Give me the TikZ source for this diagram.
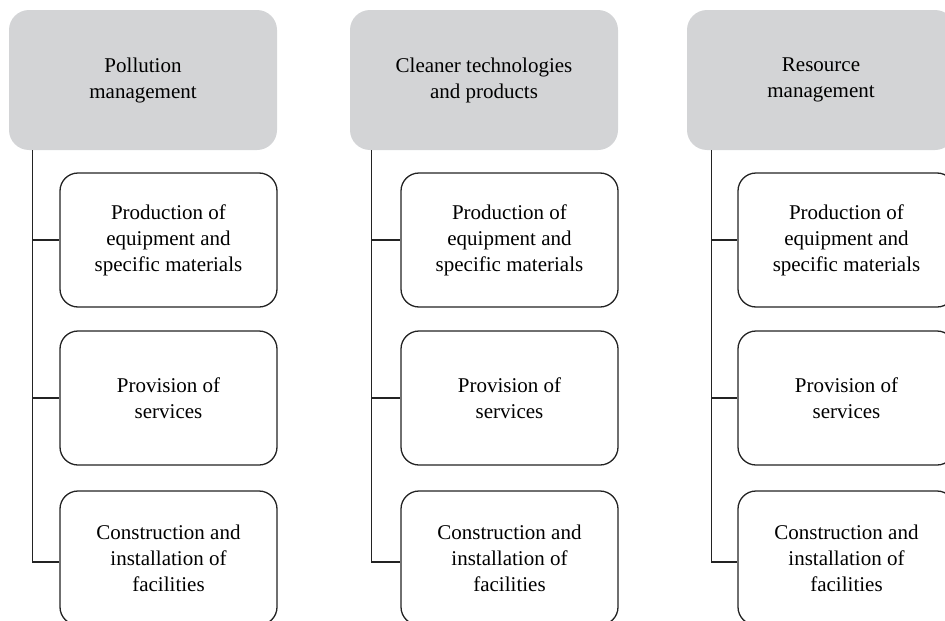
\documentclass[tikz,border=0pt]{standalone}
\usepackage{fontspec}
\setmainfont{Liberation Serif}
\definecolor{headgray}{RGB}{211,212,214}
\definecolor{linegray}{RGB}{35,35,35}
\begin{document}
\begin{tikzpicture}[x=1pt,y=-1pt,
  txt/.style={align=center, inner sep=0pt, font=\fontsize{21}{26}\selectfont},
  head/.style={txt, fill=headgray, draw=none, rounded corners=20pt, minimum width=268pt, minimum height=140pt},
  sub/.style={txt, draw=linegray, line width=1.3pt, fill=white, rounded corners=18pt, minimum width=217pt, minimum height=134pt},
  conn/.style={draw=linegray, line width=1.3pt}]
\useasboundingbox (0,0) rectangle (945,621);
\clip (0,0) rectangle (945,621);

% Column 1
\node[head] (h1) at (143,80) {Pollution\\management};
\node[sub] (c11) at (168.5,240) {Production of\\equipment and\\specific materials};
\node[sub] (c12) at (168.5,398) {Provision of\\services};
\node[sub] (c13) at (168.5,558) {Construction and\\installation of\\facilities};
\coordinate (v1) at ([xshift=24pt]h1.south west);
\coordinate (b13) at ([yshift=-4pt]c13.west);
\draw[conn] (v1) -- (v1 |- b13) -- (b13);
\draw[conn] (v1 |- c11.west) -- (c11.west);
\draw[conn] (v1 |- c12.west) -- (c12.west);

% Column 2
\node[head] (h2) at (484,80) {Cleaner technologies\\and products};
\node[sub] (c21) at (509.5,240) {Production of\\equipment and\\specific materials};
\node[sub] (c22) at (509.5,398) {Provision of\\services};
\node[sub] (c23) at (509.5,558) {Construction and\\installation of\\facilities};
\coordinate (v2) at ([xshift=22pt]h2.south west);
\coordinate (b23) at ([yshift=-4pt]c23.west);
\draw[conn] (v2) -- (v2 |- b23) -- (b23);
\draw[conn] (v2 |- c21.west) -- (c21.west);
\draw[conn] (v2 |- c22.west) -- (c22.west);

% Column 3
\node[head] (h3) at (821,80) {Resource\\management};
\node[sub] (c31) at (846.5,240) {Production of\\equipment and\\specific materials};
\node[sub] (c32) at (846.5,398) {Provision of\\services};
\node[sub] (c33) at (846.5,558) {Construction and\\installation of\\facilities};
\coordinate (v3) at ([xshift=25pt]h3.south west);
\coordinate (b33) at ([yshift=-4pt]c33.west);
\draw[conn] (v3) -- (v3 |- b33) -- (b33);
\draw[conn] (v3 |- c31.west) -- (c31.west);
\draw[conn] (v3 |- c32.west) -- (c32.west);
\end{tikzpicture}
\end{document}
